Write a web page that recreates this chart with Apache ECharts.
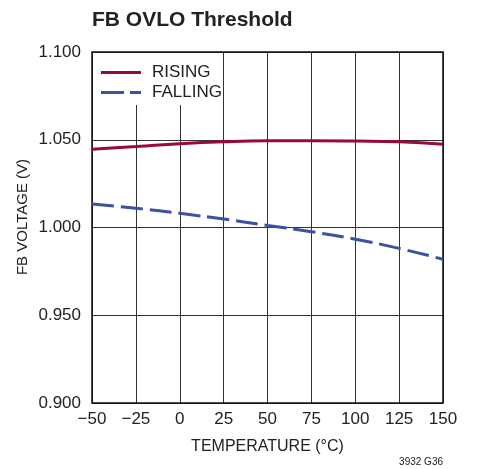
<!DOCTYPE html>
<html><head><meta charset="utf-8">
<script src="https://cdn.jsdelivr.net/npm/echarts@6/dist/echarts.min.js"></script>
<style>html,body{margin:0;padding:0;background:#fff}#c{width:478px;height:469px}</style>
</head><body><div id="c"></div>
<script>
const temps = [-50, -25, 0, 25, 50, 75, 100, 125, 150];
const rising = [1.0446, 1.0461, 1.0477, 1.0488, 1.0494, 1.0495, 1.0493, 1.0488, 1.0474];
const falling = [1.0134, 1.0110, 1.0081, 1.0048, 1.0012, 0.9976, 0.9933, 0.9881, 0.9819];
const xTicks = [-50, 150, 25];
const yTicks = [0.9, 1.1, 0.05];
const F = '"Liberation Sans Narrow", "Liberation Sans", Arial, sans-serif';
const chart = echarts.init(document.getElementById('c'));
chart.setOption({
  animation: false,
  title: { text: 'FB OVLO Threshold', left: 87, top: 5,
    textStyle: { fontFamily: F, fontSize: 21, fontWeight: 'bold', color: '#222' } },
  grid: { left: 92, right: 35, top: 52, bottom: 66, containLabel: false },
  xAxis: { type: 'value', min: xTicks[0], max: xTicks[1], interval: xTicks[2],
    axisLine: { show: false }, axisTick: { show: false },
    splitLine: { show: true, lineStyle: { color: '#333', width: 1 } },
    axisLabel: { fontFamily: F, fontSize: 17, color: '#222', margin: 8,
      formatter: v => (v < 0 ? '\u2212' + Math.abs(v) : '' + v) },
    name: 'TEMPERATURE (°C)', nameLocation: 'middle', nameGap: 36,
    nameTextStyle: { fontFamily: F, fontSize: 16, color: '#222' } },
  yAxis: { type: 'value', min: yTicks[0], max: yTicks[1], interval: yTicks[2],
    axisLine: { show: false }, axisTick: { show: false },
    splitLine: { show: true, lineStyle: { color: '#333', width: 1 } },
    axisLabel: { fontFamily: F, fontSize: 17, color: '#222', margin: 11,
      formatter: v => v.toFixed(3) } },
  legend: { left: 96, top: 59, orient: 'vertical', itemGap: 3, itemWidth: 40, itemHeight: 14,
    textStyle: { fontFamily: F, fontSize: 17, color: '#222', padding: [0, 0, 0, 6] }, z: 5,
    data: [{ name: 'RISING', icon: 'path://M0,0H40V3H0Z' }, { name: 'FALLING', icon: 'path://M0,0H23V3H0ZM29,0H40V3H29Z' }] },
  graphic: [
    { type: 'rect', z: 3, shape: { x: 93, y: 53, width: 129, height: 52 }, style: { fill: '#fff' } },
    { type: 'rect', z: 4, shape: { x: 92, y: 52, width: 351, height: 351 }, style: { fill: 'none', stroke: '#111', lineWidth: 1.5 } },
    { type: 'text', z: 4, rotation: Math.PI / 2, x: 15, y: 217,
      style: { text: 'FB VOLTAGE (V)', fontFamily: F, fontSize: 15, fill: '#222', textAlign: 'center', textVerticalAlign: 'top' } },
    { type: 'text', z: 4, x: 443, y: 457,
      style: { text: '3932 G36', fontFamily: F, fontSize: 10, fill: '#222', textAlign: 'right' } }
  ],
  series: [
    { name: 'RISING', type: 'line', smooth: true, showSymbol: false, z: 6,
      data: temps.map((t, i) => [t, rising[i]]),
      itemStyle: { color: '#9a0a36' }, lineStyle: { color: '#9a0a36', width: 3 } },
    { name: 'FALLING', type: 'line', smooth: true, showSymbol: false, z: 6,
      data: temps.map((t, i) => [t, falling[i]]),
      itemStyle: { color: '#3a51a6' }, lineStyle: { color: '#3a51a6', width: 3, type: [22, 7] } }
  ]
});
</script></body></html>
